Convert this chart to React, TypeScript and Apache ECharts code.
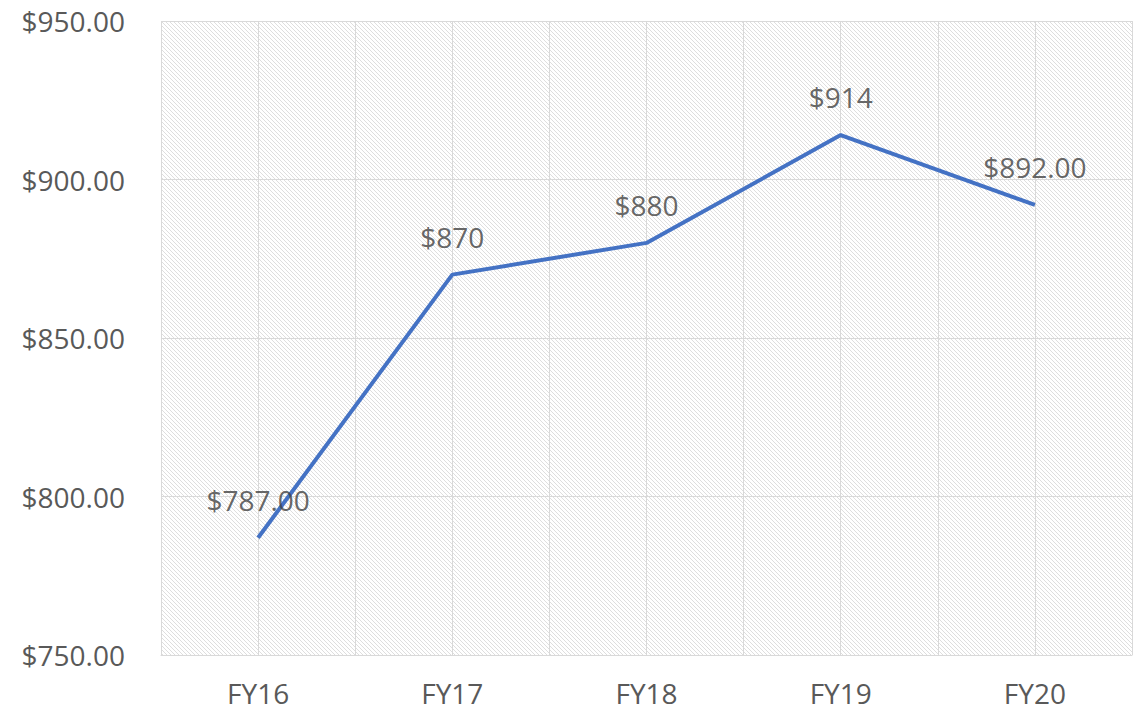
import React, { useEffect, useRef } from "react";
import * as echarts from "echarts";

const categories = ["FY16", "FY17", "FY18", "FY19", "FY20"];
const values = [787, 870, 880, 914, 892];
const labelTexts = ["$787.00", "$870", "$880", "$914", "$892.00"];
const yMin = 750;
const yMax = 950;
const yInterval = 50;

function makePattern(): string {
  const c = document.createElement("canvas");
  c.width = 4;
  c.height = 4;
  const ctx = c.getContext("2d")!;
  ctx.fillStyle = "#ffffff";
  ctx.fillRect(0, 0, 4, 4);
  ctx.fillStyle = "#dedede";
  for (let i = 0; i < 4; i++) ctx.fillRect(i, i, 1, 1);
  return c.toDataURL();
}

export default function App() {
  const ref = useRef<HTMLDivElement>(null);
  useEffect(() => {
    const chart = echarts.init(ref.current!, null, { renderer: "svg" });
    const font = "'Open Sans', sans-serif";
    chart.setOption({
      animation: false,
      grid: {
        left: 161,
        right: 15,
        top: 21,
        bottom: 59,
        show: true,
        borderWidth: 0,
        backgroundColor: { image: makePattern(), repeat: "repeat" },
      },
      xAxis: [
        {
          type: "category",
          data: categories,
          boundaryGap: true,
          axisLine: { show: true, lineStyle: { color: "#d9d9d9", width: 1 } },
          axisTick: { show: false },
          splitLine: { show: false },
          axisLabel: { color: "#595959", fontSize: 28, fontFamily: font, margin: 24 },
        },
        {
          type: "value",
          min: 0,
          max: categories.length * 2,
          interval: 1,
          position: "bottom",
          axisLine: { show: false },
          axisTick: { show: false },
          axisLabel: { show: false },
          splitLine: { show: true, lineStyle: { color: "#d9d9d9", width: 1 } },
        },
      ],
      yAxis: {
        type: "value",
        min: yMin,
        max: yMax,
        interval: yInterval,
        axisLine: { show: false },
        axisTick: { show: false },
        splitLine: { show: true, lineStyle: { color: "#d9d9d9", width: 1 } },
        axisLabel: {
          color: "#595959",
          fontSize: 28,
          fontFamily: font,
          margin: 36,
          formatter: (v: number) => "$" + v.toFixed(2),
        },
      },
      series: [
        {
          type: "line",
          xAxisIndex: 0,
          yAxisIndex: 0,
          data: values,
          symbol: "none",
          lineStyle: { color: "#4472c4", width: 4 },
          z: 2,
        },
        {
          type: "scatter",
          xAxisIndex: 0,
          yAxisIndex: 0,
          data: values,
          symbolSize: 2,
          itemStyle: { color: "rgba(0,0,0,0)" },
          label: {
            show: true,
            position: "top",
            distance: 23,
            color: "#404040",
            fontSize: 28,
            fontFamily: font,
            formatter: (p: any) => labelTexts[p.dataIndex],
          },
          z: 3,
        },
      ],
    });
    return () => chart.dispose();
  }, []);
  return <div ref={ref} style={{ width: 1147, height: 714, margin: -8 }} />;
}
